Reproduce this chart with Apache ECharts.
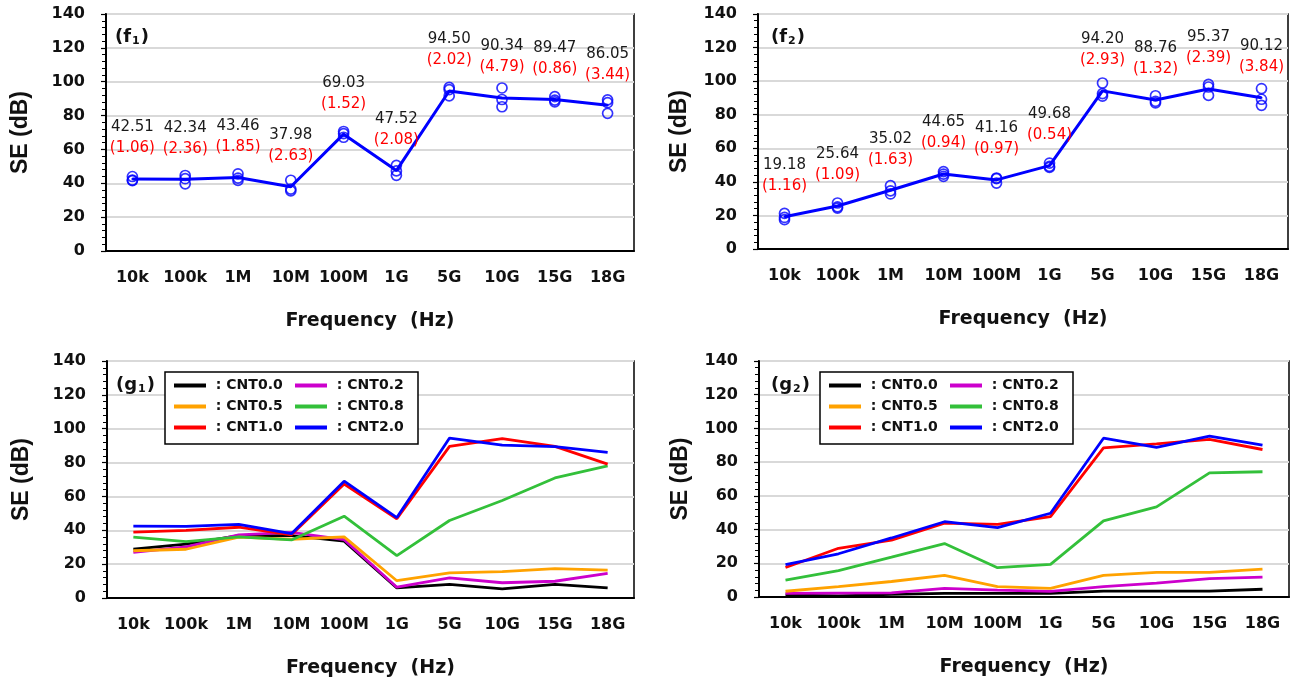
<!DOCTYPE html>
<html><head><meta charset="utf-8">
<script src="https://cdn.jsdelivr.net/npm/echarts@6/dist/echarts.min.js"></script>
<style>html,body{margin:0;padding:0;background:#fff}#c{width:1293px;height:683px}</style>
</head><body><div id="c"></div>
<script>
// ---------- DATA ----------
const categories = ['10k','100k','1M','10M','100M','1G','5G','10G','15G','18G'];

const f1Mean = [42.51,42.34,43.46,37.98,69.03,47.52,94.50,90.34,89.47,86.05];
const f1SD   = ['1.06','2.36','1.85','2.63','1.52','2.08','2.02','4.79','0.86','3.44'];
const f1Samples = [[44.0,41.9,41.6],[44.6,42.7,39.7],[45.6,43.1,41.7],[41.8,36.6,35.5],[70.6,69.3,67.2],
                   [50.6,47.3,44.7],[96.6,95.3,91.6],[96.3,89.5,85.2],[91.2,89.1,88.1],[89.3,87.6,81.3]];

const f2Mean = [19.18,25.64,35.02,44.65,41.16,49.68,94.20,88.76,95.37,90.12];
const f2SD   = ['1.16','1.09','1.63','0.94','0.97','0.54','2.93','1.32','2.39','3.84'];
const f2Samples = [[21.2,18.8,17.5],[27.4,25.1,24.4],[37.7,34.6,32.8],[46.1,44.6,43.3],[42.3,41.9,39.3],
                   [51.2,49.2,48.6],[98.9,92.6,91.1],[91.3,88.0,87.0],[98.1,96.5,91.5],[95.6,89.2,85.6]];

const seriesNames = ['CNT0.0','CNT0.2','CNT0.5','CNT0.8','CNT1.0','CNT2.0'];
const g1CNT00 = [28.9,31.8,36.9,36.8,33.6,6.0,8.0,5.4,8.0,6.0];
const g1CNT02 = [27.0,30.2,37.3,38.8,34.5,6.4,11.9,9.0,9.9,14.5];
const g1CNT05 = [27.9,28.8,36.0,34.7,36.1,10.2,14.8,15.6,17.4,16.5];
const g1CNT08 = [36.0,33.3,36.1,34.3,48.3,25.0,45.8,57.6,70.9,78.1];
const g1CNT10 = [38.9,40.0,41.8,37.3,67.3,46.8,89.6,94.1,89.6,79.1];
const g1CNT20 = f1Mean;

const g2CNT00 = [1.2,0.7,1.6,2.2,2.2,2.2,3.5,3.5,3.5,4.6];
const g2CNT02 = [2.1,2.3,2.4,5.1,4.1,3.3,6.1,8.2,10.9,11.8];
const g2CNT05 = [3.4,6.2,9.2,12.8,6.1,5.1,12.8,14.6,14.6,16.5];
const g2CNT08 = [10.0,15.7,23.6,31.7,17.4,19.4,45.2,53.5,73.6,74.3];
const g2CNT10 = [17.5,28.9,33.7,43.8,43.1,47.7,88.5,90.8,93.5,87.5];
const g2CNT20 = f2Mean;

const yTickMin = 0, yTickMax = 140, yTickStep = 20;

// ---------- STYLE ----------
const FONT = "'DejaVu Sans','Noto Sans',sans-serif";
const colors = ['#000000','#cc00cc','#ffa200','#33c03a','#ff0000','#0000ff'];
const grids = [
  {left:106, top:14, width:528, height:237},
  {left:758, top:14, width:530, height:235},
  {left:107, top:361, width:527, height:237},
  {left:759, top:361, width:530, height:236}
];
const yNameGap = [74, 67, 74, 67];

function xAxisOf(i){
  return {
    type:'category', gridIndex:i, data:categories, boundaryGap:true,
    axisLine:{lineStyle:{color:'#000', width:2}},
    axisTick:{alignWithLabel:true, length:5, lineStyle:{color:'#000', width:1.5}},
    axisLabel:{interval:0, hideOverlap:false, margin:19, fontSize:16, fontWeight:'bold', color:'#111', fontFamily:FONT},
    name:'Frequency  (Hz)', nameLocation:'middle', nameGap:61,
    nameTextStyle:{fontSize:19, fontWeight:'bold', color:'#111', fontFamily:FONT},
    splitLine:{show:false}
  };
}
function yAxisOf(i){
  return {
    type:'value', gridIndex:i, min:yTickMin, max:yTickMax, interval:yTickStep,
    axisLine:{show:true, lineStyle:{color:'#000', width:2}},
    axisTick:{show:true, length:5, lineStyle:{color:'#000', width:1.2}},
    minorTick:{show:true, splitNumber:5, length:4, lineStyle:{color:'#000', width:1}},
    axisLabel:{margin:21, fontSize:16, fontWeight:'bold', color:'#111', fontFamily:FONT},
    splitLine:{show:true, lineStyle:{color:'#d9d9d9', width:2}},
    name:'SE (dB)', nameLocation:'middle', nameGap:yNameGap[i],
    nameTextStyle:{fontSize:23, fontWeight:'bold', color:'#111', fontFamily:"'Liberation Sans',Arial,sans-serif"}
  };
}

function meanSeries(i, mean, sd){
  return {
    type:'line', xAxisIndex:i, yAxisIndex:i, data:mean, z:3,
    symbol:'circle', symbolSize:2, itemStyle:{color:'#0000ff'},
    lineStyle:{color:'#0000ff', width:3},
    label:{show:true, position:'top', distance:19,
      formatter:p => '{m|' + mean[p.dataIndex].toFixed(2) + '}\n{s|(' + sd[p.dataIndex] + ')}',
      rich:{
        m:{color:'#1a1a1a', fontSize:15, lineHeight:21, fontFamily:FONT},
        s:{color:'#ff0000', fontSize:15, lineHeight:21, fontFamily:FONT}
      }
    }
  };
}
function sampleSeries(i, samples){
  const pts = [];
  samples.forEach((arr, k) => arr.forEach(v => pts.push([categories[k], v])));
  return {
    type:'scatter', xAxisIndex:i, yAxisIndex:i, data:pts, z:4,
    symbol:'circle', symbolSize:10,
    itemStyle:{color:'rgba(0,0,0,0)', borderColor:'#0000ff', borderWidth:1.7}
  };
}
function groupSeries(i, arrays){
  return arrays.map((d, k) => ({
    type:'line', name:seriesNames[k], xAxisIndex:i, yAxisIndex:i, data:d,
    symbol:'none', color:colors[k],
    lineStyle:{color:colors[k], width:2.8}, z:2 + k
  }));
}
function legendOf(left){
  return {
    left:left, top:372, width:240, orient:'horizontal',
    data:seriesNames, icon:'rect', itemWidth:32, itemHeight:4, itemGap:6,
    padding:[6,8,9,9], borderColor:'#000', borderWidth:1.5, backgroundColor:'#fff',
    formatter:n => ' : ' + n, selectedMode:false,
    textStyle:{fontSize:14, lineHeight:15, fontWeight:'bold', color:'#111', fontFamily:FONT, width:78}
  };
}
function panelTitle(txt, sub, left, top){
  return {
    text:'{a|(' + txt + '}{b|' + sub + '}{a|)}', left:left, top:top, padding:0,
    textStyle:{rich:{
      a:{fontSize:18, fontWeight:'bold', color:'#111', fontFamily:FONT, lineHeight:24, verticalAlign:'middle'},
      b:{fontSize:11, fontWeight:'bold', color:'#111', fontFamily:FONT, lineHeight:24, verticalAlign:'bottom', padding:[0,1,2,1]}
    }}
  };
}

const option = {
  animation:false,
  backgroundColor:'#fff',
  title:[
    panelTitle('f','1',115,25), panelTitle('f','2',771,25),
    panelTitle('g','1',116,373), panelTitle('g','2',771,373)
  ],
  grid:grids.map(g => Object.assign({show:true, borderColor:'#000', borderWidth:1.5, backgroundColor:'transparent', containLabel:false}, g)),
  xAxis:[0,1,2,3].map(xAxisOf),
  yAxis:[0,1,2,3].map(yAxisOf),
  legend:[legendOf(165), legendOf(820)],
  series:[
    meanSeries(0, f1Mean, f1SD), sampleSeries(0, f1Samples),
    meanSeries(1, f2Mean, f2SD), sampleSeries(1, f2Samples),
    ...groupSeries(2, [g1CNT00,g1CNT02,g1CNT05,g1CNT08,g1CNT10,g1CNT20]),
    ...groupSeries(3, [g2CNT00,g2CNT02,g2CNT05,g2CNT08,g2CNT10,g2CNT20])
  ]
};
const chart = echarts.init(document.getElementById('c'), null, {renderer:'canvas'});
chart.setOption(option);
</script>
</body></html>
